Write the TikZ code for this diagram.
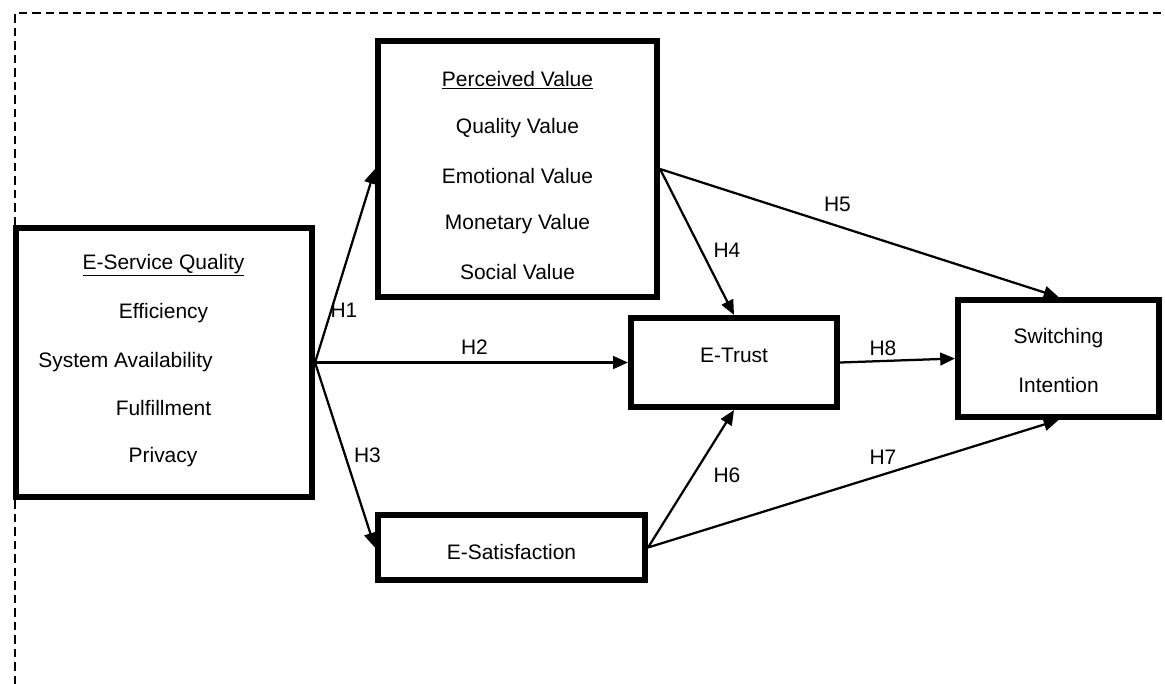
\documentclass[tikz,border=0pt]{standalone}
\usepackage{fontspec}
\setmainfont{Liberation Sans}
\usetikzlibrary{arrows.meta}

\tikzset{
  construct/.style={draw, line width=4.3pt, inner sep=0pt},
  item/.style={inner sep=0pt},
  hlink/.style={line width=1.6pt, -{Triangle[length=10.5pt, width=9pt]}},
}

\begin{document}
\begin{tikzpicture}[x=0.025cm, y=-0.025cm, font=\fontsize{14.9pt}{18pt}\selectfont]
  \useasboundingbox (0,0) rectangle (1165,684);
  \draw[line width=1.9pt, dash pattern=on 6pt off 3.6pt] (15,684) -- (15,13) -- (1165,13);

  \node[construct, minimum width=7.4cm, minimum height=6.725cm] (esq) at (164,362.5){};
  \node[construct, minimum width=6.975cm, minimum height=6.4cm] (pv) at (517.5,169){};
  \node[construct, minimum width=5.15cm, minimum height=2.225cm] (trust) at (734,362.5){};
  \node[construct, minimum width=5.025cm, minimum height=2.925cm] (switch) at (1058.5,358.5){};
  \node[construct, minimum width=6.675cm, minimum height=1.625cm] (sat) at (511.5,547.5){};

  \node[item] (esq0) at(163.5,265){\underline{E-Service Quality}};
  \node[item] (esq1) at(163.5,313){Efficiency};
  \node[item] (esq2) at(125.5,362){System Availability};
  \node[item] (esq3) at(163.5,408){Fulfillment};
  \node[item] (esq4) at(163,457){Privacy};
  \node[item] (pv0) at(517.5,80){\underline{Perceived Value}};
  \node[item] (pv1) at(517.5,128){Quality Value};
  \node[item] (pv2) at(517.5,176){Emotional Value};
  \node[item] (pv3) at(517.5,224){Monetary Value};
  \node[item] (pv4) at(517.5,272){Social Value};
  \node[item] (trust0) at(734,355){E-Trust};
  \node[item] (switch0) at(1058.5,338){Switching};
  \node[item] (switch1) at(1058.5,385){Intention};
  \node[item] (sat0) at(511.5,552){E-Satisfaction};

  \draw[hlink] (esq.east) -- (pv.west);
  \draw[hlink] (esq.east) -- (trust.west);
  \draw[hlink] (esq.east) -- (sat.west);
  \draw[hlink] (pv.east) -- (trust.north);
  \draw[hlink] (pv.east) -- (switch.north);
  \draw[hlink] (sat.east) -- (trust.south);
  \draw[hlink] (sat.east) -- (switch.south);
  \draw[hlink] (trust.east) -- (switch.west);

  \node[item] (h1) at(344,310){H1};
  \node[item] (h2) at(474.5,347){H2};
  \node[item] (h3) at(367.5,455){H3};
  \node[item] (h4) at(727,250){H4};
  \node[item] (h5) at(837.5,204){H5};
  \node[item] (h6) at(727,475){H6};
  \node[item] (h7) at(883,457){H7};
  \node[item] (h8) at(883,348){H8};
\end{tikzpicture}
\end{document}
